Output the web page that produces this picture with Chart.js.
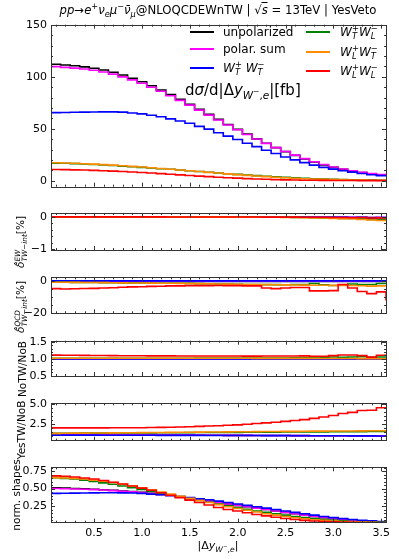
<!DOCTYPE html>
<html><head><meta charset="utf-8">
<script src="https://cdn.jsdelivr.net/npm/chart.js@4.4.0/dist/chart.umd.min.js"></script>
<style>
html,body{margin:0;padding:0;background:#fff;}
#wrap{position:relative;width:399px;height:559px;overflow:hidden;font-family:'DejaVu Sans',sans-serif;color:#000;}
canvas{position:absolute;left:0;top:0;}
.t{position:absolute;white-space:nowrap;line-height:1;}
.ss{display:inline-block;vertical-align:-0.35em;font-size:0.7em;line-height:0.95;text-align:left;}
.ss>span{display:block;}
.sw{position:absolute;height:2px;}
.rot{transform:translate(-50%,-50%) rotate(-90deg);}
.vc{transform:translateY(-50%);}
sub,sup{font-size:0.7em;line-height:0;}
</style></head>
<body><div id="wrap">
<canvas id="c1" width="399" height="559"></canvas>
<canvas id="c2" width="399" height="559"></canvas>
<canvas id="c3" width="399" height="559"></canvas>
<canvas id="c4" width="399" height="559"></canvas>
<canvas id="c5" width="399" height="559"></canvas>
<canvas id="c6" width="399" height="559"></canvas>

<div class="t" style="left:218px;top:5px;font-size:11.7px;transform:translateX(-50%);"><i>pp</i>→<i>e</i><sup>+</sup><i>ν</i><sub><i>e</i></sub><i>μ</i><sup>−</sup><i>ν̄</i><sub><i>μ</i></sub>@NLOQCDEWnTW | √<span style="border-top:1px solid #000;"><i>s</i></span> = 13TeV | YesVeto</div>

<div class="sw" style="left:190px;top:31px;width:24px;background:#000"></div>
<div class="t vc" style="left:223px;top:32px;font-size:12px;">unpolarized</div>
<div class="sw" style="left:190px;top:48px;width:24px;background:#ff00ff"></div>
<div class="t vc" style="left:223px;top:49px;font-size:12px;">polar. sum</div>
<div class="sw" style="left:190px;top:67px;width:24px;background:#0000ff"></div>
<div class="t vc" style="left:223px;top:68px;font-size:12px;"><i>W</i><span class="ss"><span>+</span><span><i>T</i></span></span> <i>W</i><span class="ss"><span>−</span><span><i>T</i></span></span></div>

<div class="sw" style="left:306px;top:31px;width:24px;background:#008000"></div>
<div class="t vc" style="left:340px;top:32px;font-size:12px;"><i>W</i><span class="ss"><span>+</span><span><i>T</i></span></span><i>W</i><span class="ss"><span>−</span><span><i>L</i></span></span></div>
<div class="sw" style="left:306px;top:51px;width:24px;background:#ff8c00"></div>
<div class="t vc" style="left:340px;top:52px;font-size:12px;"><i>W</i><span class="ss"><span>+</span><span><i>L</i></span></span><i>W</i><span class="ss"><span>−</span><span><i>T</i></span></span></div>
<div class="sw" style="left:306px;top:70px;width:24px;background:#ff0000"></div>
<div class="t vc" style="left:340px;top:71px;font-size:12px;"><i>W</i><span class="ss"><span>+</span><span><i>L</i></span></span><i>W</i><span class="ss"><span>−</span><span><i>L</i></span></span></div>

<div class="t vc" style="left:185px;top:90px;font-size:15px;">d<i>σ</i>/d|Δ<i>y</i><sub><i>W</i><sup>−</sup>,<i>e</i></sub>|[fb]</div>

<div class="t rot" style="left:22px;top:242px;font-size:10.5px;"><i>δ̂</i><span class="ss"><span><i>EW</i></span><span><i>TW</i>−<i>int</i></span></span>[%]</div>
<div class="t rot" style="left:22px;top:307px;font-size:10.5px;"><i>δ̂</i><span class="ss"><span><i>QCD</i></span><span><i>TW</i>−<i>int</i></span></span>[%]</div>
<div class="t rot" style="left:22px;top:369px;font-size:10.5px;">NoTW/NoB</div>
<div class="t rot" style="left:21px;top:430px;font-size:10.5px;">YesTW/NoB</div>
<div class="t rot" style="left:16px;top:495px;font-size:10.5px;">norm. shapes</div>

<div class="t" style="left:218px;top:545px;font-size:11px;transform:translate(-50%,-50%);">|Δ<i>y</i><sub><i>W</i><sup>−</sup>,<i>e</i></sub>|</div>
</div>
<script>
// ---- data ----
const binCenters = [0.1,0.2,0.3,0.4,0.5,0.6,0.7,0.8,0.9,1.0,1.1,1.2,1.3,1.4,1.5,1.6,1.7,1.8,1.9,2.0,2.1,2.2,2.3,2.4,2.5,2.6,2.7,2.8,2.9,3.0,3.1,3.2,3.3,3.4,3.5];
const xTicks = [0.5,1.0,1.5,2.0,2.5,3.0,3.5];
const seriesNames = ['unpolarized','polar. sum','WT+WT-','WT+WL-','WL+WT-','WL+WL-'];
const seriesColors = ['#000000','#ff00ff','#0000ff','#008000','#ff8c00','#ff0000'];

// panel 1: dsigma/d|dy| [fb]
const xsUnpol = [112.0,111.3,110.5,109.5,108.2,106.5,104.3,101.6,98.6,95.2,91.3,87.2,82.8,78.3,73.6,68.7,63.8,59.0,54.1,49.4,44.8,40.3,36.0,31.9,28.0,24.4,21.0,18.0,15.2,12.9,11.0,9.3,7.9,6.6,5.6];
const xsPolSum = [109.7,109.0,108.3,107.4,106.2,104.6,102.5,99.9,97.0,93.7,89.9,86.0,81.7,77.3,72.7,67.9,63.1,58.4,53.6,49.0,44.5,40.1,35.9,31.9,28.1,24.6,21.3,18.3,15.6,13.3,11.3,9.6,8.2,6.9,5.9];
const xsTT = [65.5,65.6,65.8,66.0,66.1,66.2,66.2,66.0,65.2,64.3,63.0,61.5,59.5,57.5,55.3,52.3,49.6,46.2,42.9,39.7,36.1,32.8,29.4,26.2,22.9,20.1,17.4,15.0,12.9,11.2,9.7,8.3,7.0,5.8,4.9];
const xsTL = [17.0,16.8,16.5,16.1,15.7,15.2,14.7,14.1,13.5,12.9,12.3,11.6,11.0,10.3,9.6,8.9,8.2,7.5,6.8,6.1,5.5,4.9,4.3,3.8,3.3,2.8,2.4,2.0,1.7,1.4,1.2,1.0,0.8,0.65,0.5];
const xsLT = [17.3,17.1,16.8,16.4,16.0,15.5,15.0,14.4,13.8,13.2,12.5,11.8,11.1,10.4,9.6,8.9,8.1,7.4,6.6,5.9,5.2,4.6,4.0,3.4,2.9,2.4,2.0,1.7,1.4,1.1,0.9,0.75,0.6,0.5,0.4];
const xsLL = [10.8,10.7,10.5,10.3,10.0,9.7,9.3,8.9,8.4,7.9,7.4,6.9,6.3,5.7,5.1,4.5,4.0,3.4,2.9,2.5,2.1,1.7,1.4,1.1,0.9,0.7,0.55,0.45,0.35,0.3,0.25,0.2,0.18,0.15,0.13];

// panel 2: delta EW TW-int [%]
const ewUnpol = [0,0,0,0,0,0,0,0,0,0,0,-0.003,-0.003,-0.004,-0.004,-0.005,-0.005,-0.006,-0.006,-0.007,-0.007,-0.008,-0.008,-0.009,-0.01,-0.01,-0.012,-0.012,-0.014,-0.015,-0.016,-0.018,-0.02,-0.022,-0.025];
const ewPolSum = [0,0,0,0,0,0,0,0,0,0,0,-0.002,-0.003,-0.003,-0.004,-0.004,-0.005,-0.005,-0.006,-0.006,-0.007,-0.007,-0.008,-0.008,-0.009,-0.01,-0.01,-0.011,-0.012,-0.013,-0.014,-0.016,-0.015,-0.02,-0.012];
const ewTT = [0,0,0,0,0,0,0,0,0,0,0,-0.002,-0.002,-0.003,-0.003,-0.004,-0.004,-0.005,-0.005,-0.006,-0.006,-0.007,-0.007,-0.008,-0.008,-0.009,-0.01,-0.01,-0.011,-0.012,-0.013,-0.02,-0.015,-0.03,-0.02];
const ewTL = [0,0,0,0,0,0,0,0,-0.002,-0.002,-0.003,-0.003,-0.004,-0.004,-0.005,-0.005,-0.006,-0.006,-0.007,-0.008,-0.008,-0.009,-0.01,-0.011,-0.012,-0.016,-0.02,-0.025,-0.03,-0.04,-0.045,-0.05,-0.07,-0.075,-0.09];
const ewLT = [0,0,0,0,0,0,0,0,-0.002,-0.002,-0.003,-0.003,-0.004,-0.004,-0.005,-0.005,-0.006,-0.007,-0.007,-0.008,-0.009,-0.01,-0.011,-0.012,-0.015,-0.02,-0.025,-0.03,-0.035,-0.045,-0.055,-0.055,-0.08,-0.095,-0.11];
const ewLL = [0,0,0,0,0,0,0,0,0,0,0,0,-0.002,-0.002,-0.002,-0.003,-0.003,-0.003,-0.004,-0.004,-0.005,-0.005,-0.006,-0.006,-0.007,-0.008,-0.009,-0.01,-0.012,-0.02,-0.02,-0.025,-0.02,-0.035,-0.03];

// panel 3: delta QCD TW-int [%]
const qcdUnpol = [-0.5,-0.5,-0.5,-0.5,-0.5,-0.5,-0.5,-0.5,-0.5,-0.5,-0.5,-0.5,-0.5,-0.5,-0.5,-0.5,-0.5,-0.5,-0.5,-0.5,-0.5,-0.5,-0.5,-0.5,-0.5,-0.5,-0.5,-0.5,-0.5,-0.5,-0.5,-0.5,-0.5,-0.5,-0.5];
const qcdPolSum = [-0.3,-0.3,-0.3,-0.3,-0.3,-0.3,-0.3,-0.3,-0.3,-0.3,-0.3,-0.3,-0.3,-0.3,-0.3,-0.3,-0.3,-0.3,-0.3,-0.3,-0.3,-0.3,-0.3,-0.3,-0.3,-0.3,-0.3,-0.3,-0.3,-0.3,-0.3,-0.3,-0.3,-0.3,-0.3];
const qcdTT = [-0.1,-0.1,-0.1,-0.1,-0.1,-0.1,-0.1,-0.1,-0.1,-0.1,-0.1,-0.1,-0.1,-0.1,-0.1,-0.1,-0.1,-0.1,-0.1,-0.1,-0.1,-0.1,-0.1,-0.1,-0.1,-0.1,-0.1,-0.1,-0.1,-0.1,-0.1,-0.1,-0.1,-0.1,-0.1];
const qcdTL = [-0.9,-0.95,-1.0,-1.05,-1.1,-1.15,-1.2,-1.3,-1.35,-1.4,-1.45,-1.5,-1.55,-1.5,-1.6,-1.8,-1.9,-2.0,-2.1,-2.2,-2.3,-2.3,-2.4,-2.4,-2.5,-2.3,-2.4,-1.7,-2.5,-2.9,-2.6,-2.0,-2.4,-2.3,-1.7];
const qcdLT = [-0.9,-0.95,-1.0,-1.05,-1.1,-1.15,-1.2,-1.3,-1.35,-1.4,-1.45,-1.5,-1.55,-1.6,-1.7,-1.8,-1.9,-2.0,-2.1,-2.2,-2.3,-2.35,-2.4,-2.5,-2.55,-2.6,-2.7,-2.75,-2.8,-2.85,-2.9,-2.95,-3.1,-3.3,-3.2];
const qcdLL = [-4.9,-5.1,-5.0,-4.8,-4.7,-4.5,-4.3,-4.0,-3.8,-3.7,-3.5,-3.4,-3.2,-3.2,-3.0,-3.0,-3.0,-2.9,-3.0,-3.0,-3.2,-3.2,-4.5,-4.9,-4.5,-4.2,-4.2,-6.3,-6.3,-6.1,-2.3,-4.5,-6.7,-8.0,-6.9];
const qcdLLoverflow = -12.3;

// panel 4: NoTW/NoB
const noUnpol = [1.0,1.0,1.0,1.0,1.0,1.0,1.0,1.0,1.0,1.0,1.0,1.0,1.0,1.0,1.0,1.0,1.0,1.0,1.0,1.0,1.0,1.0,1.0,1.0,1.0,1.0,1.0,1.0,1.0,1.0,1.0,1.0,1.0,1.0,1.0];
const noPolSum = [1.0,1.0,1.0,1.0,1.0,1.0,1.0,1.0,1.0,1.0,1.0,1.0,1.0,1.0,1.0,1.0,1.0,1.0,1.0,1.0,1.0,1.0,1.0,1.0,1.0,1.0,1.0,1.0,1.0,1.0,1.0,1.0,1.0,1.0,1.0];
const noTT = [0.995,0.995,0.995,0.995,0.995,0.995,0.995,0.995,0.995,0.995,0.995,0.995,0.995,0.995,0.995,0.995,0.995,0.995,0.995,0.995,0.995,0.995,0.995,0.995,0.995,0.995,0.995,0.995,0.995,0.995,0.995,0.995,0.995,0.995,0.995];
const noTL = [1.015,1.015,1.015,1.015,1.015,1.015,1.015,1.015,1.015,1.015,1.015,1.015,1.015,1.015,1.015,1.016,1.016,1.017,1.017,1.018,1.018,1.019,1.02,1.02,1.022,1.025,1.03,1.04,1.045,1.05,1.04,1.05,1.06,1.04,1.05];
const noLT = [1.015,1.015,1.015,1.015,1.015,1.015,1.015,1.014,1.014,1.014,1.014,1.013,1.013,1.013,1.013,1.012,1.012,1.012,1.011,1.011,1.011,1.01,1.01,1.01,1.009,1.009,1.008,1.008,1.007,1.006,1.005,1.005,1.003,1.002,1.0];
const noLL = [1.105,1.103,1.10,1.098,1.095,1.093,1.09,1.088,1.087,1.085,1.084,1.083,1.082,1.081,1.08,1.08,1.079,1.078,1.078,1.078,1.077,1.077,1.078,1.078,1.079,1.08,1.082,1.07,1.07,1.09,1.11,1.11,1.09,1.045,1.10];

// panel 5: YesTW/NoB
const yesUnpol = [1.14,1.14,1.14,1.135,1.135,1.13,1.13,1.125,1.12,1.12,1.115,1.11,1.105,1.1,1.1,1.095,1.09,1.085,1.08,1.075,1.07,1.065,1.06,1.055,1.05,1.045,1.04,1.035,1.03,1.03,1.025,1.02,1.015,1.01,1.01];
const yesPolSum = [1.14,1.14,1.14,1.135,1.135,1.13,1.13,1.125,1.12,1.12,1.115,1.11,1.105,1.1,1.1,1.095,1.09,1.085,1.08,1.075,1.07,1.065,1.06,1.055,1.05,1.045,1.04,1.035,1.03,1.03,1.025,1.02,1.015,1.01,1.01];
const yesTT = [1.10,1.10,1.10,1.10,1.10,1.095,1.095,1.09,1.09,1.09,1.085,1.08,1.08,1.075,1.07,1.07,1.065,1.06,1.06,1.055,1.05,1.05,1.045,1.04,1.04,1.035,1.03,1.03,1.025,1.02,1.02,1.015,1.01,1.01,1.0];
const yesTL = [1.33,1.34,1.34,1.35,1.35,1.36,1.37,1.37,1.38,1.39,1.39,1.40,1.41,1.41,1.42,1.43,1.43,1.44,1.45,1.45,1.46,1.47,1.47,1.48,1.49,1.49,1.50,1.51,1.51,1.52,1.53,1.53,1.54,1.55,1.55];
const yesLT = [1.33,1.34,1.35,1.36,1.37,1.38,1.39,1.40,1.41,1.42,1.43,1.44,1.45,1.46,1.47,1.48,1.49,1.50,1.51,1.52,1.53,1.54,1.55,1.56,1.57,1.58,1.59,1.60,1.61,1.62,1.63,1.63,1.64,1.65,1.65];
const yesLL = [2.01,2.01,2.01,2.01,2.01,2.01,2.02,2.02,2.02,2.03,2.05,2.07,2.09,2.12,2.16,2.20,2.24,2.28,2.33,2.39,2.46,2.55,2.63,2.72,2.82,2.93,3.04,3.20,3.37,3.55,3.80,3.95,4.18,4.22,4.52];

// panel 6: normalised shapes
const shUnpol = [0.51,0.505,0.50,0.495,0.49,0.483,0.475,0.465,0.455,0.445,0.43,0.415,0.40,0.38,0.36,0.34,0.32,0.30,0.28,0.26,0.24,0.22,0.20,0.18,0.16,0.14,0.12,0.10,0.085,0.07,0.058,0.047,0.038,0.03,0.025];
const shPolSum = [0.50,0.497,0.493,0.489,0.484,0.478,0.47,0.461,0.452,0.442,0.428,0.414,0.40,0.38,0.36,0.34,0.32,0.30,0.28,0.26,0.24,0.22,0.20,0.18,0.16,0.14,0.12,0.10,0.086,0.071,0.059,0.048,0.039,0.031,0.026];
const shTT = [0.43,0.432,0.434,0.436,0.438,0.44,0.44,0.438,0.435,0.43,0.42,0.41,0.40,0.385,0.37,0.355,0.34,0.32,0.30,0.28,0.26,0.24,0.22,0.20,0.18,0.16,0.14,0.12,0.10,0.085,0.07,0.058,0.047,0.038,0.03];
const shTL = [0.655,0.645,0.635,0.62,0.60,0.58,0.56,0.535,0.51,0.485,0.46,0.435,0.41,0.385,0.355,0.33,0.305,0.28,0.255,0.23,0.205,0.18,0.16,0.14,0.12,0.10,0.085,0.07,0.058,0.047,0.038,0.03,0.025,0.02,0.016];
const shLT = [0.655,0.65,0.645,0.635,0.62,0.605,0.585,0.56,0.535,0.51,0.48,0.45,0.42,0.39,0.36,0.33,0.30,0.27,0.24,0.215,0.19,0.165,0.14,0.12,0.10,0.083,0.068,0.055,0.045,0.036,0.03,0.025,0.02,0.017,0.015];
const shLL = [0.68,0.675,0.665,0.65,0.635,0.615,0.59,0.565,0.535,0.505,0.475,0.44,0.405,0.37,0.335,0.30,0.265,0.23,0.20,0.18,0.155,0.13,0.11,0.09,0.072,0.058,0.045,0.036,0.029,0.024,0.02,0.017,0.015,0.013,0.012];

// ---- drawing ----
Chart.defaults.font.family = "'DejaVu Sans', sans-serif";
Chart.defaults.color = '#000';

const framePlugin = {
  id: 'frame',
  afterDraw(chart, args, opts) {
    const {ctx, chartArea: a, scales} = chart;
    const xs = scales.x, ys = scales.y;
    ctx.save();
    ctx.strokeStyle = '#333';
    ctx.lineWidth = 1;
    ctx.beginPath();
    const tick = (x1, y1, x2, y2) => { ctx.moveTo(x1, y1); ctx.lineTo(x2, y2); };
    for (let k = 1; k <= 35; k++) {
      const v = k / 10;
      const px = Math.round(xs.getPixelForValue(v)) + 0.5;
      const len = (k % 5 === 0) ? 4 : 2;
      tick(px, a.bottom, px, a.bottom - len);
      tick(px, a.top, px, a.top + len);
    }
    const lo = ys.min, hi = ys.max, st = opts.minor;
    for (let k = Math.ceil(lo / st - 1e-9); k * st <= hi + 1e-9; k++) {
      const v = k * st;
      const isMajor = opts.major.some(m => Math.abs(m - v) < st * 1e-3);
      const py = Math.round(ys.getPixelForValue(v)) + 0.5;
      const len = isMajor ? 4 : 2;
      tick(a.left, py, a.left + len, py);
      tick(a.right, py, a.right - len, py);
    }
    ctx.stroke();
    ctx.strokeRect(Math.round(a.left) + 0.5, Math.round(a.top) + 0.5, Math.round(a.right - a.left), Math.round(a.bottom - a.top));
    ctx.restore();
  }
};

function makePanel(id, cfg) {
  const n = cfg.series.length;
  const datasets = cfg.series.map((vals, si) => {
    const pts = vals.map((v, i) => ({x: binCenters[i] - 0.05, y: v}));
    const last = binCenters[binCenters.length - 1] + 0.05;
    const extra = (cfg.extra && cfg.extra[si] !== undefined) ? cfg.extra[si] : vals[vals.length - 1];
    pts.push({x: last, y: extra});
    return {
      label: seriesNames[si], data: pts, borderColor: seriesColors[si],
      borderWidth: 1.6, pointRadius: 0, stepped: 'before', fill: false,
      order: n - 1 - si
    };
  });
  const showX = !!cfg.showX;
  const xH = 20;
  return new Chart(document.getElementById(id), {
    type: 'line',
    data: {datasets},
    plugins: [framePlugin],
    options: {
      responsive: false, animation: false, devicePixelRatio: 1,
      layout: {padding: {top: cfg.top, bottom: 559 - cfg.bottom - (showX ? xH : 0), left: 0, right: 13}},
      plugins: {legend: {display: false}, tooltip: {enabled: false}, frame: {major: cfg.major, minor: cfg.minor}},
      scales: {
        x: {
          type: 'linear', min: 0.05, max: 3.55, display: showX,
          grid: {display: false, drawTicks: false}, border: {display: false},
          ticks: {padding: 4, font: {size: 11}, color: '#000', autoSkip: false, maxRotation: 0,
                  callback: v => Number(v).toFixed(1)},
          afterBuildTicks: s => { s.ticks = xTicks.map(v => ({value: v})); },
          afterFit: s => { s.height = xH; }
        },
        y: {
          type: 'linear', min: cfg.min, max: cfg.max,
          grid: {display: false, drawTicks: false}, border: {display: false},
          ticks: {padding: 4, font: {size: 11}, color: '#000', autoSkip: false,
                  callback: v => cfg.fmt(v).replace('-', '\u2212')},
          afterBuildTicks: s => { s.ticks = cfg.major.map(v => ({value: v})); },
          afterFit: s => { s.width = 51; }
        }
      }
    }
  });
}

makePanel('c1', {top: 24.7, bottom: 206.7, min: -5.7, max: 150, major: [0, 50, 100, 150], minor: 10,
  fmt: v => String(Math.round(v)), series: [xsUnpol, xsPolSum, xsTT, xsTL, xsLT, xsLL]});
makePanel('c2', {top: 213, bottom: 270, min: -1.02, max: 0.12, major: [-1, 0], minor: 0.2,
  fmt: v => String(Math.round(v)), series: [ewUnpol, ewPolSum, ewTT, ewTL, ewLT, ewLL]});
makePanel('c3', {top: 277.3, bottom: 333.3, min: -20.2, max: 2.15, major: [-20, 0], minor: 5,
  fmt: v => String(Math.round(v)), series: [qcdUnpol, qcdPolSum, qcdTT, qcdTL, qcdLT, qcdLL],
  extra: {5: qcdLLoverflow}});
makePanel('c4', {top: 340.7, bottom: 396, min: 0.49, max: 1.53, major: [0.5, 1.0, 1.5], minor: 0.1,
  fmt: v => Number(v).toFixed(1), series: [noUnpol, noPolSum, noTT, noTL, noLT, noLL]});
makePanel('c5', {top: 403.3, bottom: 460.7, min: 0.41, max: 5.08, major: [2.5, 5.0], minor: 0.5,
  fmt: v => Number(v).toFixed(1), series: [yesUnpol, yesPolSum, yesTT, yesTL, yesLT, yesLL]});
makePanel('c6', {top: 467.3, bottom: 522.7, min: 0.012, max: 0.803, major: [0.25, 0.5, 0.75], minor: 0.05,
  fmt: v => Number(v).toFixed(2), series: [shUnpol, shPolSum, shTT, shTL, shLT, shLL], showX: true});
</script>
</body></html>
